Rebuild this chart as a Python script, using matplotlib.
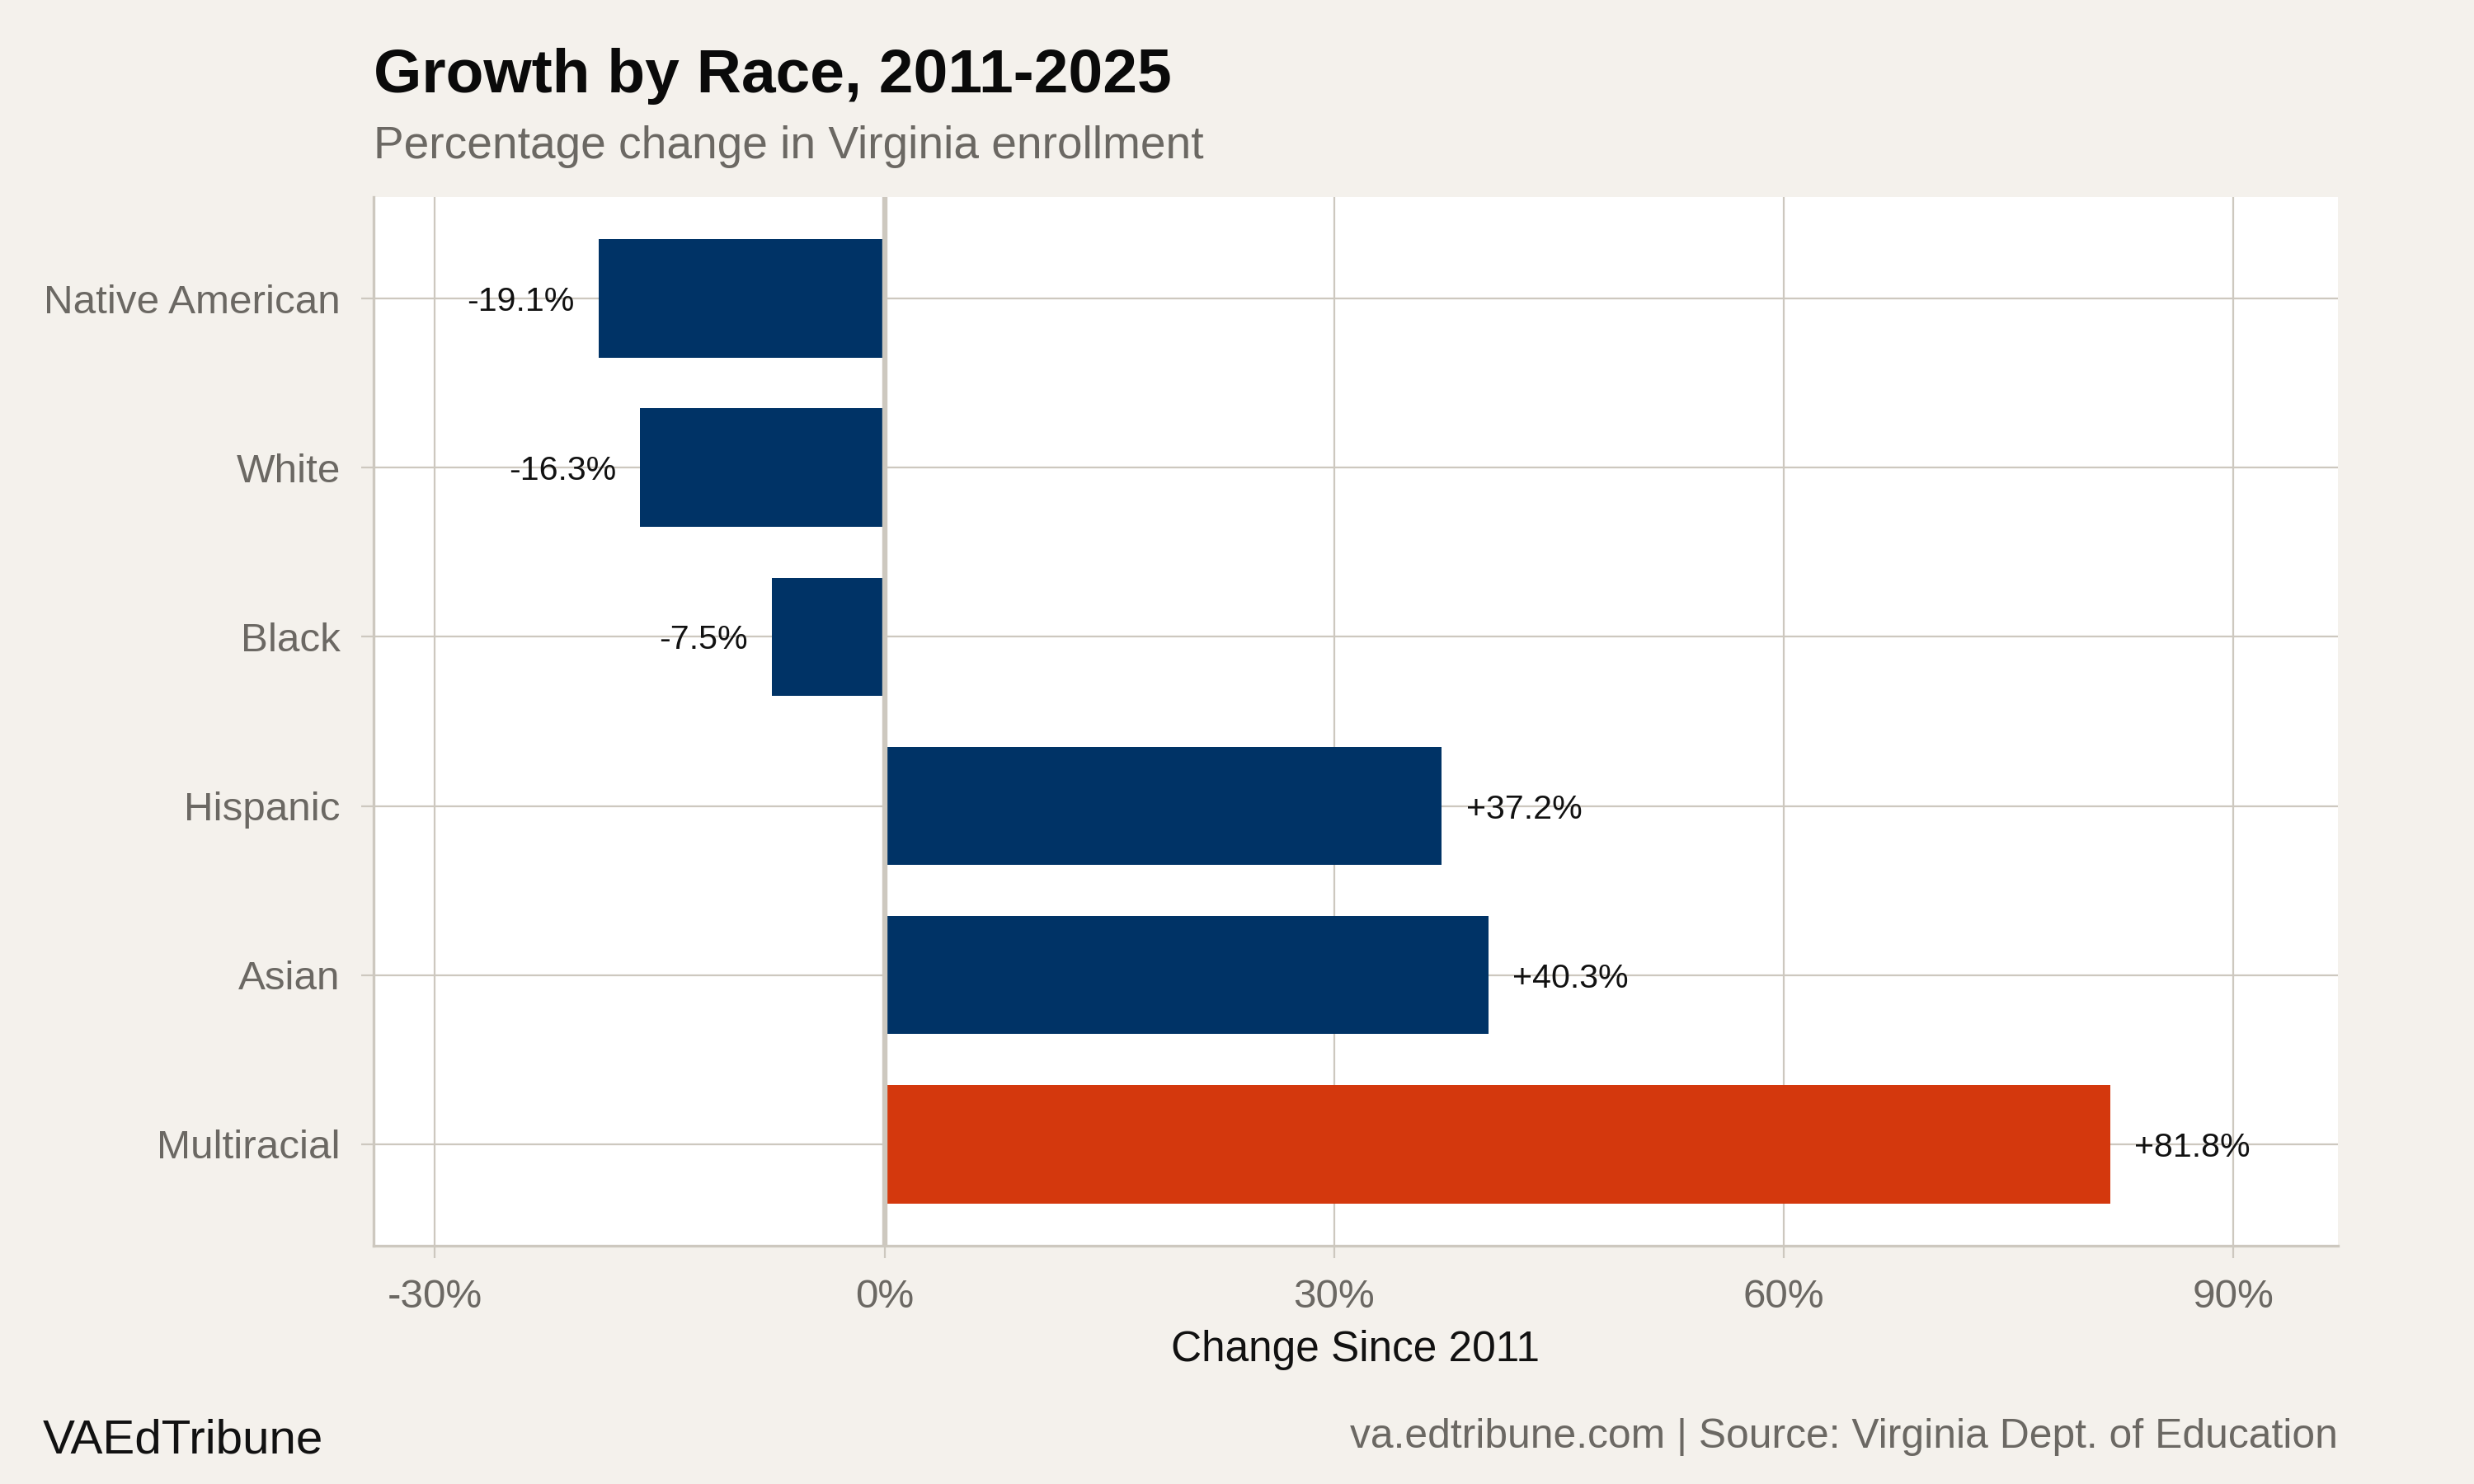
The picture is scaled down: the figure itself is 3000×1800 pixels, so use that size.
import matplotlib.pyplot as plt

plt.rcParams['font.family'] = ['Liberation Sans', 'DejaVu Sans']

races = ["Native American", "White", "Black", "Hispanic", "Asian", "Multiracial"]
changes = [-19.1, -16.3, -7.5, 37.2, 40.3, 81.8]
bar_colors = ["#003366", "#003366", "#003366", "#003366", "#003366", "#d4380d"]
x_ticks = [-30, 0, 30, 60, 90]
x_tick_labels = ["-30%", "0%", "30%", "60%", "90%"]

bg = "#f4f1ec"
grid_col = "#cdc8bf"
grey_text = "#6b6863"

fig = plt.figure(figsize=(15, 9), dpi=200, facecolor=bg)
ax = fig.add_axes([0.151, 0.1606, 0.794, 0.7066])
ax.set_facecolor("white")

# categories top to bottom
ypos = list(range(len(races), 0, -1))
ax.barh(ypos, changes, height=0.7, color=bar_colors, zorder=2)
ax.axvline(0, color=grid_col, linewidth=2.3, zorder=3)

for y, v in zip(ypos, changes):
    if v < 0:
        ax.text(v - 1.6, y, f"{v:.1f}%", ha="right", va="center_baseline", fontsize=14.8, color="#111111")
    else:
        ax.text(v + 1.6, y, f"+{v:.1f}%", ha="left", va="center_baseline", fontsize=14.8, color="#111111")

ax.set_xlim(-34.1, 97.0)
ax.set_ylim(0.4, len(races) + 0.6)
ax.set_xticks(x_ticks)
ax.set_xticklabels(x_tick_labels)
ax.set_yticks(ypos)
ax.set_yticklabels(races)

ax.grid(True, color=grid_col, linewidth=0.8, zorder=0)
ax.set_axisbelow(True)
for s in ["top", "right"]:
    ax.spines[s].set_visible(False)
for s in ["left", "bottom"]:
    ax.spines[s].set_color(grid_col)
    ax.spines[s].set_linewidth(1.2)

ax.tick_params(axis="both", colors=grid_col, length=5.5, width=0.8, labelsize=17.8,
               labelcolor=grey_text, pad=9)

ax.set_xlabel("Change Since 2011", fontsize=18.5, color="#111111", labelpad=6)

fig.text(0.151, 0.9378, "Growth by Race, 2011-2025", fontsize=27, fontweight="bold",
         color="#0a0a0a", ha="left", va="baseline")
fig.text(0.151, 0.8933, "Percentage change in Virginia enrollment", fontsize=19.8,
         color=grey_text, ha="left", va="baseline")
fig.text(0.0173, 0.0294, "VAEdTribune", fontsize=21, color="#111111", ha="left", va="center")
fig.text(0.945, 0.0317, "va.edtribune.com | Source: Virginia Dept. of Education", fontsize=17.9,
         color=grey_text, ha="right", va="center")

fig.savefig("out.png", dpi=200, facecolor=bg)
